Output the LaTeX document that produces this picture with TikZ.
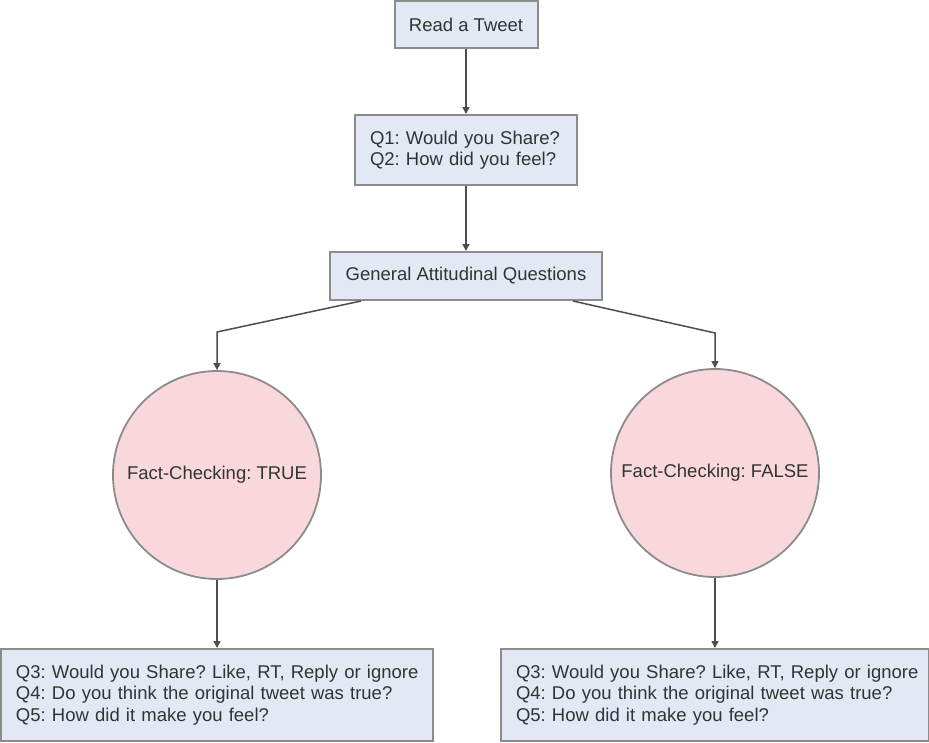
\documentclass[tikz,border=0pt]{standalone}
\usepackage{fontspec}
\setmainfont{Liberation Sans}
\frenchspacing
\hyphenpenalty=10000
\exhyphenpenalty=10000
\usetikzlibrary{arrows.meta}
\newcommand\qtxtfont{\fontsize{18.5}{21.5}\selectfont\frenchspacing\hyphenpenalty=10000\relax}
\definecolor{boxfill}{HTML}{E3E8F5}
\definecolor{circfill}{HTML}{F8D7DD}
\definecolor{edgegray}{HTML}{8C8C8C}
\definecolor{txtgray}{HTML}{333333}
\definecolor{linegray}{HTML}{4D4D4D}
\tikzset{
  qbox/.style={draw=edgegray, line width=2pt, fill=boxfill, text=txtgray,
    font=\qtxtfont, inner sep=0pt},
  fcirc/.style={circle, draw=edgegray, line width=1.8pt, fill=circfill, text=txtgray,
    font=\qtxtfont, minimum size=208pt, inner sep=0pt},
  conn/.style={draw=linegray, line width=1.5pt, -{Triangle[length=7pt,width=7pt]}}
}
\begin{document}
\begin{tikzpicture}[x=1pt,y=-1pt]
\useasboundingbox (0,0) rectangle (929,742);
\node[qbox, minimum width=143pt, minimum height=47pt] (read) at (466,24.5) {Read a Tweet};
\node[qbox, minimum width=222pt, minimum height=70pt, text width=192pt, inner xsep=15pt, align=left] (q12) at (466,150) {Q1: Would you Share?\\Q2: How did you feel?};
\node[qbox, minimum width=272pt, minimum height=48pt] (gen) at (466,276) {General Attitudinal Questions};
\node[fcirc] (ctrue) at (217,475) {Fact-Checking: TRUE};
\node[fcirc] (cfalse) at (715,473) {Fact-Checking: FALSE};
\node[qbox, minimum width=432pt, minimum height=92pt, text width=402pt, inner xsep=15pt, align=left] (btrue) at (217,695) {\mbox{Q3: Would you Share? Like, RT, Reply or ignore}\\\mbox{Q4: Do you think the original tweet was true?}\\\mbox{Q5: How did it make you feel?}};
\node[qbox, minimum width=428pt, minimum height=92pt, text width=398pt, inner xsep=15pt, align=left] (bfalse) at (715,695) {\mbox{Q3: Would you Share? Like, RT, Reply or ignore}\\\mbox{Q4: Do you think the original tweet was true?}\\\mbox{Q5: How did it make you feel?}};
\coordinate (lt) at (217,332);
\coordinate (rt) at (715,333);
\draw[conn] (read.south) -- (q12.north);
\draw[conn] (q12.south) -- (gen.north);
\draw[conn] ([xshift=32pt]gen.south west) -- (lt) -- (ctrue.north);
\draw[conn] ([xshift=-30pt]gen.south east) -- (rt) -- (cfalse.north);
\draw[conn] (ctrue.south) -- (btrue.north);
\draw[conn] (cfalse.south) -- (bfalse.north);
\end{tikzpicture}
\end{document}
